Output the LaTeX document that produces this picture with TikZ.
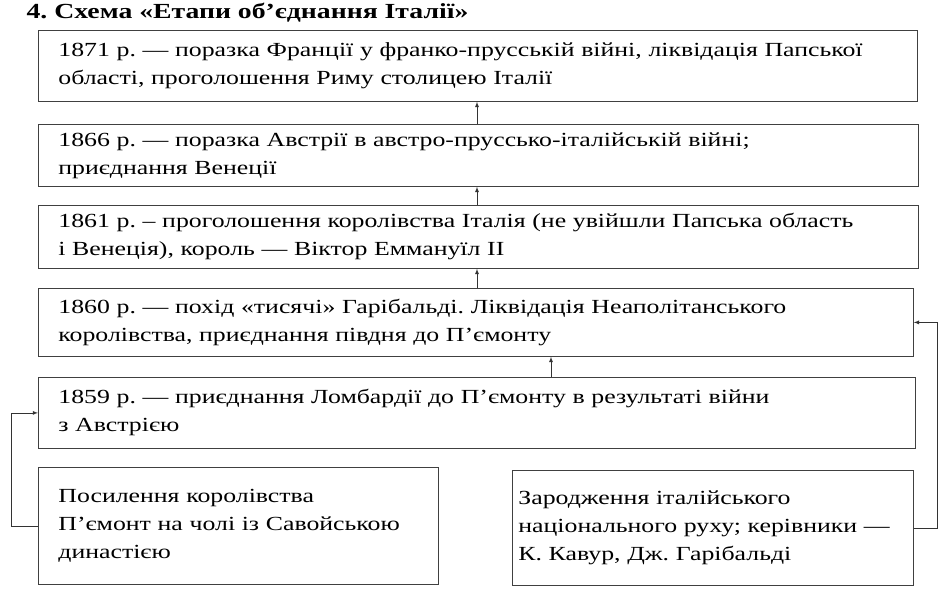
\documentclass[tikz,border=0pt]{standalone}
\usepackage{fontspec}
\setmainfont[FakeStretch=1.29]{Liberation Serif}
\usepackage{tikz}
\frenchspacing
\newcommand{\stagefont}{\fontsize{20}{28}\selectfont}
\tikzset{
  stage/.style={draw=black!75, line width=0.8pt, rectangle, anchor=north west,
    inner xsep=20pt, inner ysep=0pt, align=left, font=\stagefont},
  link/.style={draw=black!80, line width=0.8pt, -latex}
}

\begin{document}
\begin{tikzpicture}[x=1pt, y=-1pt]
        \useasboundingbox (0,0) rectangle (950,602);

        \node[anchor=west, font=\fontsize{21.5}{22}\selectfont\bfseries] (title) at (23,13)
            {4. Схема «Етапи об’єднання Італії»};

        \node[stage, text width=839, minimum height=71] (y1871) at (38,30)
            {1871 р. — поразка Франції у франко-прусській війні, ліквідація Папської\\
             області, проголошення Риму столицею Італії};
        \node[stage, text width=840, minimum height=62] (y1866) at (38,124)
            {1866 р. — поразка Австрії в австро-пруссько-італійській війні;\\
             приєднання Венеції};
        \node[stage, text width=840, minimum height=63] (y1861) at (38,205)
            {1861 р. – проголошення королівства Італія (не увійшли Папська область\\
             і Венеція), король — Віктор Еммануїл II};
        \node[stage, text width=835, minimum height=68] (y1860) at (38,288)
            {1860 р. — похід «тисячі» Гарібальді. Ліквідація Неаполітанського\\
             королівства, приєднання півдня до П’ємонту};
        \node[stage, text width=837, minimum height=71] (y1859) at (38,377)
            {1859 р. — приєднання Ломбардії до П’ємонту в результаті війни\\
             з Австрією};

        \node[stage, text width=360, minimum height=117] (piedmont) at (38,467)
            {Посилення королівства\\ П’ємонт на чолі із Савойською\\ династією};
        \node[stage, inner xsep=6pt, text width=389, minimum height=115] (movement) at (512,470)
            {Зародження італійського\\ національного руху; керівники —\\ К. Кавур, Дж. Гарібальді\\[6pt]};

        % arrows between the stages
        \coordinate (mid) at (477,0);
        \coordinate (mid2) at (551,0);
        \draw[link] (mid |- y1866.north) -- (mid |- y1871.south);
        \draw[link] (mid |- y1861.north) -- (mid |- y1866.south);
        \draw[link] (mid |- y1860.north) -- (mid |- y1861.south);
        \draw[link] (mid2 |- y1859.north) -- (mid2 |- y1860.south);

        \draw[link] (piedmont.west) -- ++(-27,0) |- (y1859.west);
        \draw[link] (movement.east) -- ++(24,0) |- (y1860.east);

    \end{tikzpicture}
\end{document}
